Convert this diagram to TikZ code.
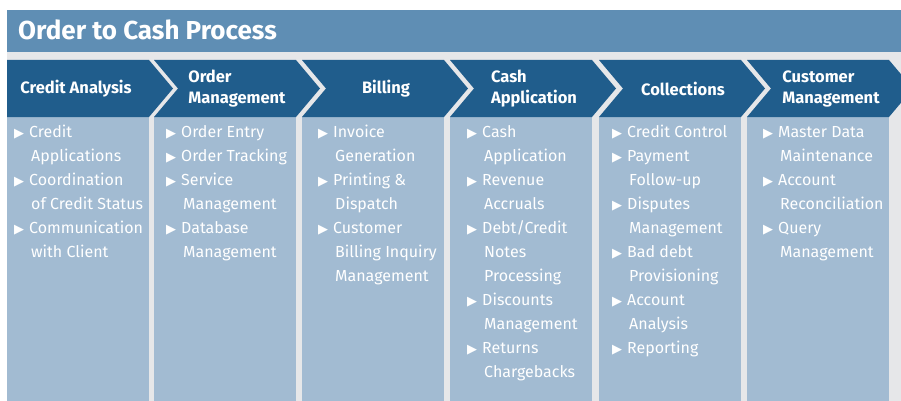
\documentclass[tikz,border=0pt]{standalone}
\usepackage{fontspec}
\setmainfont{Fira Sans}
\newfontfamily\ocsym{DejaVu Sans}
\definecolor{titleblue}{RGB}{95,142,180}
\definecolor{chevblue}{RGB}{32,93,140}
\definecolor{bodyblue}{RGB}{162,187,210}
\definecolor{bggray}{RGB}{230,231,233}
\tikzset{
  titletext/.style={text=white,font=\fontsize{26}{28}\selectfont\bfseries,inner sep=0pt},
  chevlabel/.style={text=white,font=\fontsize{16.5}{21}\selectfont\bfseries,align=left,inner sep=0pt},
  itemtext/.style={text=white,font=\fontsize{16}{18}\selectfont,inner sep=0pt},
  bulletmark/.style={text=white,font=\ocsym\fontsize{13}{14}\selectfont,inner sep=0pt},
  chevfill/.style={fill=chevblue},
  bodyfill/.style={fill=bodyblue}
}
% #1 bullet x, #2 row, #3 text, #4 name
\newcommand\ocbul[4]{%
  \node[bulletmark,anchor=base west] (#4b) at (#1,137+24*#2) {▶};
  \node[itemtext,anchor=base west] (#4) at (#1+15,137+24*#2) {#3};}
\newcommand\occont[4]{%
  \node[itemtext,anchor=base west] (#4) at (#1+17,137+24*#2) {#3};}
% #1 left x, #2 notch depth (0 or 24)
\newcommand\occhev[2]{%
  \fill[bodyfill] (#1,117) rectangle (#1+142,401);
  \fill[chevfill] (#1,60) -- (#1+142,60) -- (#1+166,88.5) -- (#1+142,117) -- (#1,117) -- (#1+#2,88.5) -- cycle;}
\begin{document}
\begin{tikzpicture}[x=1pt,y=-1pt]
\useasboundingbox (0,0) rectangle (901,401);
\clip (0,0) rectangle (901,401);
\fill[white] (0,0) rectangle (901,401);
\fill[bggray] (7,52) rectangle (901,401);
\fill[titleblue] (7,10) rectangle (901,52);
\node[titletext,anchor=west] (title) at (18,30) {Order to Cash Process};

\occhev{7}{0}
\occhev{154}{24}
\occhev{302}{24}
\occhev{450}{24}
\occhev{599}{24}
\occhev{747}{24}

\node[chevlabel] (h1) at (7+69,88.5) {Credit Analysis};
\node[chevlabel] (h2) at (154+83,88.5) {Order\\Management};
\node[chevlabel] (h3) at (302+84,88.5) {Billing};
\node[chevlabel] (h4) at (450+84,88.5) {Cash\\Application};
\node[chevlabel] (h5) at (599+84,88.5) {Collections};
\node[chevlabel] (h6) at (747+84,88.5) {Customer\\Management};

% column 1
\ocbul{14}{0}{Credit}{a1}
\occont{14}{1}{Applications}{a2}
\ocbul{14}{2}{Coordination}{a3}
\occont{14}{3}{of Credit Status}{a4}
\ocbul{14}{4}{Communication}{a5}
\occont{14}{5}{with Client}{a6}
% column 2
\ocbul{166}{0}{Order Entry}{b1}
\ocbul{166}{1}{Order Tracking}{b2}
\ocbul{166}{2}{Service}{b3}
\occont{166}{3}{Management}{b4}
\ocbul{166}{4}{Database}{b5}
\occont{166}{5}{Management}{b6}
% column 3
\ocbul{318}{0}{Invoice}{c1}
\occont{318}{1}{Generation}{c2}
\ocbul{318}{2}{Printing \&}{c3}
\occont{318}{3}{Dispatch}{c4}
\ocbul{318}{4}{Customer}{c5}
\occont{318}{5}{Billing Inquiry}{c6}
\occont{318}{6}{Management}{c7}
% column 4
\ocbul{467}{0}{Cash}{d1}
\occont{467}{1}{Application}{d2}
\ocbul{467}{2}{Revenue}{d3}
\occont{467}{3}{Accruals}{d4}
\ocbul{467}{4}{Debt/Credit}{d5}
\occont{467}{5}{Notes}{d6}
\occont{467}{6}{Processing}{d7}
\ocbul{467}{7}{Discounts}{d8}
\occont{467}{8}{Management}{d9}
\ocbul{467}{9}{Returns}{d10}
\occont{467}{10}{Chargebacks}{d11}
% column 5
\ocbul{612}{0}{Credit Control}{e1}
\ocbul{612}{1}{Payment}{e2}
\occont{612}{2}{Follow-up}{e3}
\ocbul{612}{3}{Disputes}{e4}
\occont{612}{4}{Management}{e5}
\ocbul{612}{5}{Bad debt}{e6}
\occont{612}{6}{Provisioning}{e7}
\ocbul{612}{7}{Account}{e8}
\occont{612}{8}{Analysis}{e9}
\ocbul{612}{9}{Reporting}{e10}
% column 6
\ocbul{763}{0}{Master Data}{f1}
\occont{763}{1}{Maintenance}{f2}
\ocbul{763}{2}{Account}{f3}
\occont{763}{3}{Reconciliation}{f4}
\ocbul{763}{4}{Query}{f5}
\occont{763}{5}{Management}{f6}
\end{tikzpicture}
\end{document}
